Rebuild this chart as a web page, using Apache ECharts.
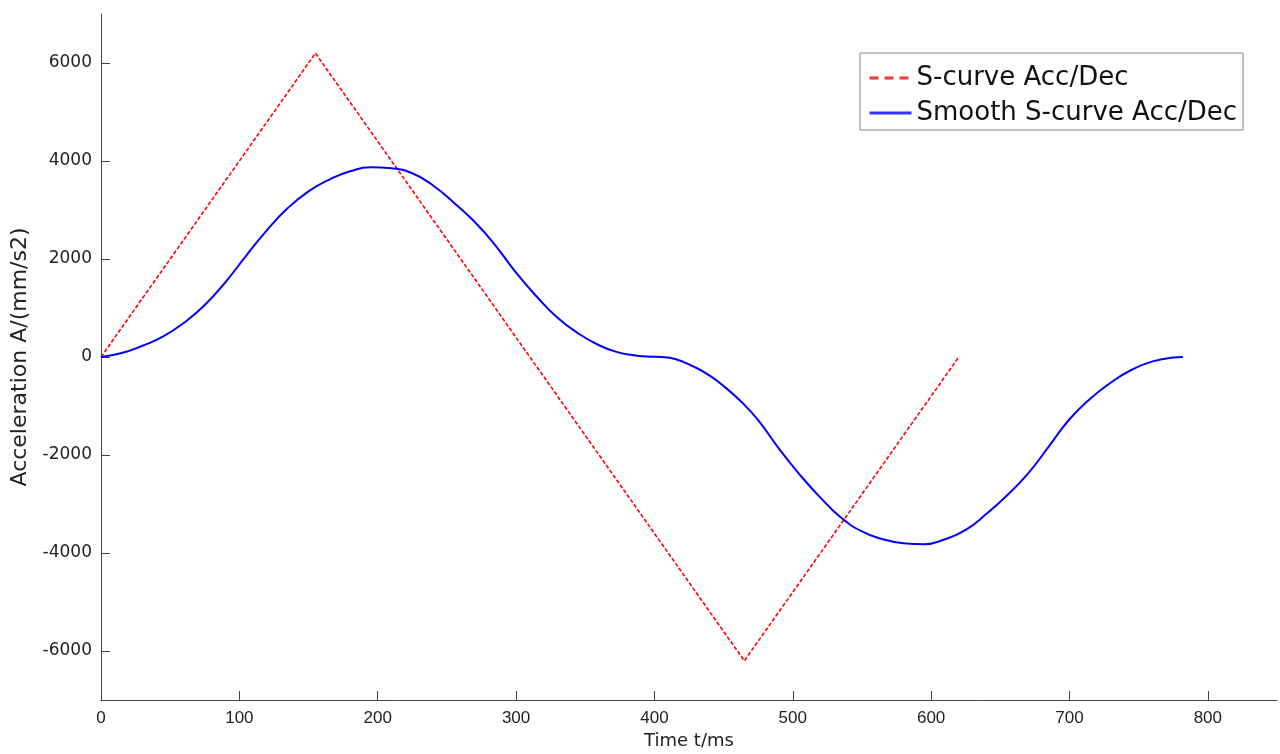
<!DOCTYPE html>
<html>
<head>
<meta charset="utf-8">
<script src="https://cdn.jsdelivr.net/npm/echarts@6/dist/echarts.min.js"></script>
<style>html,body{margin:0;padding:0;background:#fff}#c{width:1280px;height:754px}</style>
</head>
<body>
<div id="c"></div>
<script>
var xTicks = [0,100,200,300,400,500,600,700,800];
var yTicks = [-6000,-4000,-2000,0,2000,4000,6000];
var sCurveName = 'S-curve Acc/Dec';
var smoothName = 'Smooth S-curve Acc/Dec';
var sCurve = [[0,0],[155,6200],[465,-6200],[620,0]];
var smoothCurve = [
  [0,0],[15,80],[30,230],[45,420],[60,700],[75,1060],[90,1530],[105,2070],[120,2590],[135,3040],
  [150,3380],[165,3620],[180,3790],[195,3870],[210,3850],[225,3750],[240,3500],[255,3150],[270,2760],
  [285,2280],[300,1720],[315,1230],[330,800],[345,480],[360,240],[372,110],[384,40],[395,8],[405,0],
  [415,-40],[428,-190],[440,-380],[452,-640],[463,-920],[475,-1290],[490,-1870],[505,-2400],[520,-2870],
  [535,-3280],[550,-3560],[565,-3720],[580,-3800],[595,-3820],[610,-3720],[625,-3530],[640,-3200],
  [655,-2820],[670,-2380],[685,-1830],[700,-1270],[715,-850],[730,-520],[745,-260],[760,-90],
  [775,-10],[782,0]
];

var chart = echarts.init(document.getElementById('c'));
var wide = 'DejaVu Sans, sans-serif';
var narrow = 'Liberation Sans Narrow, Arial Narrow, sans-serif';
function plain(v){ return String(v); }
chart.setOption({
  animation: false,
  backgroundColor: '#fff',
  grid: {left: 101, right: 3, top: 14, bottom: 54, containLabel: false, outerBoundsMode: 'none'},
  legend: {
    orient: 'vertical',
    left: 860, top: 53,
    itemWidth: 42, itemHeight: 14, itemGap: 9,
    padding: [12, 6, 4, 8],
    borderColor: '#888', borderWidth: 1, backgroundColor: '#fff',
    itemStyle: {opacity: 0},
    textStyle: {fontFamily: wide, fontSize: 26, color: '#111'},
    data: [
      {name: sCurveName, lineStyle: {color: '#ff3333', width: 3, type: [9, 6]}},
      {name: smoothName, lineStyle: {color: '#3333ff', width: 3, type: 'solid'}}
    ]
  },
  xAxis: {
    type: 'value', min: 0, max: 850, interval: 100,
    name: 'Time t/ms', nameLocation: 'middle', nameGap: 32,
    nameTextStyle: {fontFamily: wide, fontSize: 18, color: '#222'},
    axisLine: {show: true, onZero: false, lineStyle: {color: '#444', width: 1}},
    axisTick: {show: true, inside: false, length: -9, lineStyle: {color: '#444'}, customValues: xTicks},
    axisLabel: {fontFamily: narrow, fontSize: 17, color: '#222', margin: 10, customValues: xTicks, formatter: plain},
    splitLine: {show: false}
  },
  yAxis: {
    type: 'value', min: -7000, max: 7000, interval: 1000,
    name: 'Acceleration A/(mm/s2)', nameLocation: 'middle', nameGap: 69,
    nameTextStyle: {fontFamily: wide, fontSize: 22, color: '#222'},
    axisLine: {show: true, onZero: false, lineStyle: {color: '#444', width: 1}},
    axisTick: {show: true, inside: false, length: -9, lineStyle: {color: '#444'}, customValues: yTicks},
    axisLabel: {fontFamily: wide, fontSize: 17, color: '#222', margin: 9, customValues: yTicks, formatter: plain},
    splitLine: {show: false}
  },
  series: [
    {
      name: sCurveName, type: 'line', data: sCurve, symbol: 'none',
      lineStyle: {color: '#ff0000', width: 1.6, type: [4, 2]},
      itemStyle: {color: '#ff0000'}
    },
    {
      name: smoothName, type: 'line', data: smoothCurve, symbol: 'none', smooth: 0.5,
      lineStyle: {color: '#0000ff', width: 2},
      itemStyle: {color: '#0000ff'}
    }
  ]
});
</script>
</body>
</html>
